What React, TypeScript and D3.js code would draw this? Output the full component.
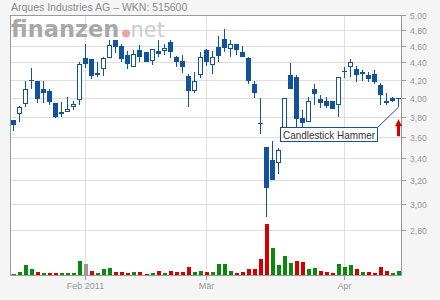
import React from "react";
import * as d3 from "d3";

// Daily sessions, Jan 14 – Apr 14, 2011
const opens = [3.77, 3.83, 3.93, 4.2, 4.18, 4.09, 4.07, 3.94, 3.85, 3.85, 3.9, 3.98, 4.45, 4.44, 4.26, 4.32, 4.45, 4.67, 4.6, 4.49, 4.34, 4.55, 4.53, 4.42, 4.54, 4.54, 4.65, 4.47, 4.42, 4.24, 4.07, 4.25, 4.55, 4.37, 4.59, 4.69, 4.56, 4.62, 4.53, 4.45, 4.15, 3.74, 3.5, 3.38, 3.35, 3.57, 4.25, 4.23, 3.79, 3.75, 4.09, 3.99, 3.97, 3.97, 3.92, 4.3, 4.34, 4.32, 4.29, 4.25, 4.26, 4.14, 3.97, 4.0, 4.0];
const highs = [3.77, 3.91, 4.18, 4.33, 4.18, 4.19, 4.09, 3.94, 3.95, 4.01, 3.97, 4.41, 4.62, 4.44, 4.41, 4.46, 4.67, 4.67, 4.62, 4.54, 4.55, 4.61, 4.53, 4.56, 4.67, 4.63, 4.68, 4.48, 4.49, 4.27, 4.29, 4.53, 4.56, 4.54, 4.72, 4.81, 4.67, 4.62, 4.6, 4.46, 4.19, 4.0, 3.5, 3.56, 3.49, 4.0, 4.39, 4.25, 3.87, 4.01, 4.15, 4.03, 4.01, 3.97, 4.23, 4.35, 4.44, 4.36, 4.31, 4.29, 4.31, 4.16, 4.05, 4.01, 4.0];
const lows = [3.66, 3.75, 3.9, 4.1, 3.94, 3.94, 3.92, 3.79, 3.8, 3.85, 3.87, 3.92, 4.33, 4.21, 4.23, 4.24, 4.45, 4.51, 4.4, 4.32, 4.34, 4.4, 4.41, 4.37, 4.46, 4.49, 4.45, 4.35, 4.28, 3.9, 4.05, 4.22, 4.36, 4.26, 4.41, 4.52, 4.47, 4.49, 4.46, 4.15, 4.0, 3.63, 2.9, 3.2, 3.26, 3.56, 4.1, 3.68, 3.69, 3.75, 3.92, 3.89, 3.89, 3.88, 3.8, 4.22, 4.23, 4.17, 4.19, 4.17, 4.15, 3.92, 3.92, 3.95, 3.9];
const closes = [3.72, 3.9, 4.1, 4.19, 3.99, 4.05, 3.95, 3.8, 3.83, 3.88, 3.93, 4.38, 4.38, 4.24, 4.28, 4.45, 4.61, 4.59, 4.44, 4.38, 4.5, 4.47, 4.41, 4.56, 4.5, 4.58, 4.53, 4.41, 4.35, 4.07, 4.19, 4.47, 4.4, 4.47, 4.48, 4.57, 4.62, 4.55, 4.46, 4.19, 4.05, 3.73, 3.14, 3.2, 3.47, 4.0, 4.1, 3.78, 3.74, 3.96, 4.04, 3.94, 3.91, 3.88, 4.23, 4.29, 4.4, 4.25, 4.26, 4.21, 4.17, 4.03, 3.94, 3.96, 3.99];
// Volume in thousand shares
const volumes = [13, 33, 103, 63, 33, 23, 23, 23, 23, 23, 23, 143, 113, 43, 23, 63, 73, 33, 33, 23, 33, 33, 13, 23, 43, 23, 43, 33, 33, 83, 33, 43, 33, 33, 113, 113, 43, 23, 33, 63, 63, 163, 513, 273, 103, 193, 123, 143, 133, 63, 73, 43, 33, 23, 113, 83, 103, 63, 33, 33, 23, 83, 43, 23, 43];

const priceTicks = [5.0, 4.8, 4.6, 4.4, 4.2, 4.0, 3.8, 3.6, 3.4, 3.2, 3.0, 2.8];
const monthTickIndex = [12, 32, 55];
const monthTickLabels = ["Feb 2011", "Mär", "Apr"];

const title = "Arques Industries AG – WKN: 515600";
const annotationText = "Candlestick Hammer";
const annotationIndex = 64;

const W = 440;
const H = 300;
const left = 10;
const right = 401;
const top = 15;
const base = 275;

const BLUE = "#11539a";
const GRID = "#dedede";
const AXIS = "#9a9a9a";
const LABEL = "#999999";
const UP = "#0a8a0a";
const DOWN = "#d40000";

const de = d3.formatLocale({ decimal: ",", thousands: ".", grouping: [3], currency: ["", "€"] });
const fmt = de.format(".2f");

export default function App() {
  const n = closes.length;
  const x = d3.scaleLinear().domain([-0.5, n - 0.5]).range([left, right + 0.5]);
  const y = d3.scaleLog().domain([2.8, 5]).range([230, top]);
  const yVol = d3.scaleLinear().domain([0, 520]).range([base, base - 52]);

  const cx = (i: number) => Math.round(x(i));

  const annX = cx(annotationIndex) + 0.5;
  const annLowY = y(lows[annotationIndex]);
  const arrowTip = annLowY + 12;

  return (
    <svg
      width={W}
      height={H}
      viewBox={`0 0 ${W} ${H}`}
      style={{ position: "absolute", left: 0, top: 0, display: "block" }}
      fontFamily="'Liberation Sans', Arial, sans-serif"
    >
      <rect x={0} y={0} width={W} height={H} fill="#f5f5f5" />
      <rect x={left} y={top} width={right - left} height={base - top} fill="#ffffff" />

      {/* horizontal grid */}
      {priceTicks.slice(1).map((t) => (
        <line key={"g" + t} x1={left} x2={right} y1={Math.round(y(t)) + 0.5} y2={Math.round(y(t)) + 0.5} stroke={GRID} />
      ))}
      {/* month grid */}
      {monthTickIndex.map((m) => (
        <line key={"vg" + m} x1={cx(m) + 0.5} x2={cx(m) + 0.5} y1={top} y2={base} stroke={GRID} />
      ))}

      {/* watermark */}
      <g>
        <text x={11} y={36.7} fontFamily="'DejaVu Sans', sans-serif" fontWeight="bold" fontSize={22.5} fill="#a8a8a8">
          finanzen
        </text>
        <circle cx={126} cy={33.5} r={4} fill="#eea3a3" />
        <text x={130.5} y={36.7} fontFamily="'DejaVu Sans', sans-serif" fontSize={21} fill="#cccccc">
          net
        </text>
      </g>

      {/* volume */}
      {volumes.map((v, i) => {
        const prev = i > 0 ? closes[i - 1] : null;
        const c = prev === null || closes[i] > prev ? UP : closes[i] < prev ? DOWN : "#9a9a9a";
        const yt = Math.round(yVol(v));
        return <rect key={"v" + i} x={cx(i) - 1} y={yt} width={4} height={base - yt} fill={c} />;
      })}

      {/* candles */}
      {closes.map((c, i) => {
        const o = opens[i];
        const xc = cx(i) + 0.5;
        const yh = Math.round(y(highs[i]));
        const yl = Math.round(y(lows[i]));
        const yTop = Math.round(y(Math.max(o, c)));
        const yBot = Math.round(y(Math.min(o, c)));
        const up = c > o;
        return (
          <g key={"c" + i}>
            <line x1={xc} x2={xc} y1={yh} y2={yl} stroke={BLUE} strokeWidth={1} />
            {up ? (
              <rect x={xc - 2} y={yTop + 0.5} width={4} height={Math.max(1, yBot - yTop - 1)} fill="#ffffff" stroke={BLUE} strokeWidth={1} />
            ) : (
              <rect x={xc - 2.5} y={yTop} width={5} height={Math.max(1, yBot - yTop)} fill={BLUE} />
            )}
          </g>
        );
      })}

      {/* frame and axes */}
      <line x1={left + 0.5} x2={left + 0.5} y1={top} y2={base} stroke={AXIS} />
      <line x1={left} x2={right + 1} y1={top + 0.5} y2={top + 0.5} stroke={AXIS} />
      <line x1={right + 0.5} x2={right + 0.5} y1={top} y2={base + 1} stroke={AXIS} />
      <line x1={left} x2={right + 1} y1={base + 0.5} y2={base + 0.5} stroke={AXIS} />

      {priceTicks.map((t) => {
        const yy = Math.round(y(t)) + 0.5;
        return (
          <g key={"t" + t}>
            <line x1={right} x2={right + 5} y1={yy} y2={yy} stroke={AXIS} />
            <text x={410} y={yy + 3.2} fontSize={8.6} fill={LABEL}>
              {fmt(t)}
            </text>
          </g>
        );
      })}

      {monthTickIndex.map((m, k) => (
        <g key={"mt" + m}>
          <line x1={cx(m) + 0.5} x2={cx(m) + 0.5} y1={base} y2={base + 5} stroke={AXIS} />
          <text x={cx(m) + 0.5} y={289.3} fontSize={9} fill={LABEL} textAnchor="middle">
            {monthTickLabels[k]}
          </text>
        </g>
      ))}

      {/* title */}
      <text x={11} y={11} fontSize={10.5} fill="#8c8c8c">
        {title}
      </text>

      {/* annotation */}
      <line x1={377.5} y1={127.5} x2={annX} y2={annLowY} stroke={BLUE} strokeWidth={1} />
      <rect x={280.5} y={127.5} width={97} height={14} fill="#ffffff" stroke={BLUE} strokeWidth={1} />
      <text x={283} y={139} fontSize={11.5} fill="#333333" textLength={92} lengthAdjust="spacingAndGlyphs">
        {annotationText}
      </text>
      <path
        d={`M${annX},${arrowTip} L${annX + 3.5},${arrowTip + 7} L${annX + 1.5},${arrowTip + 7} L${annX + 1.5},${arrowTip + 17} L${annX - 1.5},${arrowTip + 17} L${annX - 1.5},${arrowTip + 7} L${annX - 3.5},${arrowTip + 7} Z`}
        fill={DOWN}
      />
    </svg>
  );
}
